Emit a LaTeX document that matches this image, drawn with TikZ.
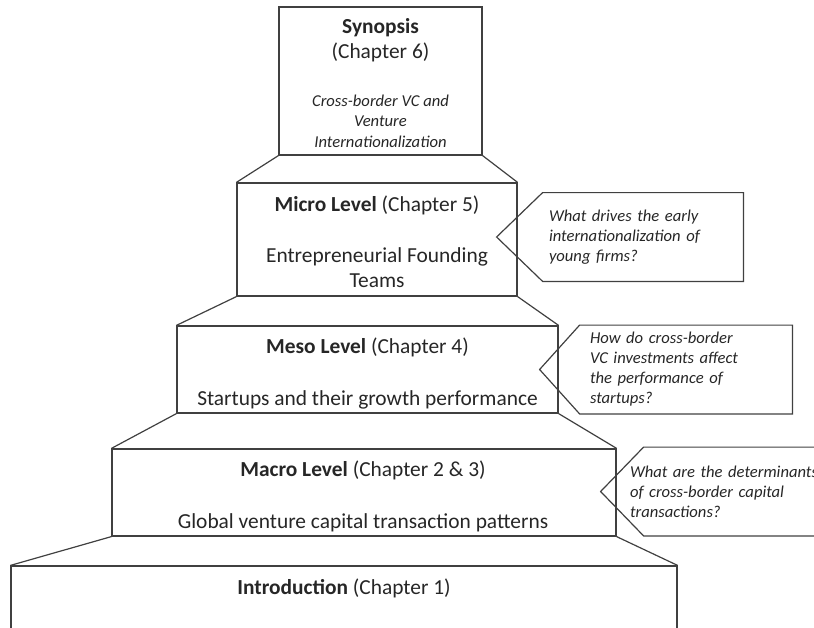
\documentclass[tikz,border=0pt]{standalone}
\usepackage{fontspec}
\setmainfont{Carlito}
\begin{document}
\begin{tikzpicture}
[x=0.5pt,y=-0.5pt,every node/.style={inner sep=0pt,text=black!85},
 lvl/.style={draw=black!75,line width=0.6pt,rectangle},
 txt/.style={font=\fontsize{10.7}{12.5}\selectfont,anchor=base,align=center},
 note/.style={font=\fontsize{8.3}{10}\selectfont\itshape,align=left,minimum height=44pt}]
\clip (0,0) rectangle (814,627);
% the stepped pyramid
\node[lvl,minimum width=101.5pt,minimum height=74pt] (syn) at (380.5,81) {};
\node[lvl,minimum width=140pt,minimum height=56.5pt] (micro) at (377,239.5) {};
\node[lvl,minimum width=190.5pt,minimum height=43.5pt] (meso) at (367.5,369.5) {};
\node[lvl,minimum width=252pt,minimum height=43.5pt] (macro) at (364,492.5) {};
\node[lvl,minimum width=333pt,minimum height=37pt] (intro) at (344,603) {};
\foreach \a/\b in {syn/micro,micro/meso,meso/macro,macro/intro}{
\draw[lvl] (\a.south west) -- (\b.north west);
\draw[lvl] (\a.south east) -- (\b.north east);
}
% texts of the levels (base = last line)
\node[txt] (synT) at (380.5,58) {\textbf{Synopsis}\\(Chapter 6)};
\node[txt,font=\fontsize{8.3}{10.25}\selectfont\itshape] (synQ) at (380.5,147) {Cross-border VC and\\Venture\\Internationalization};
\node[txt] (microT) at (377,211) {\textbf{Micro Level} (Chapter 5)};
\node[txt] (microQ) at (377,287) {Entrepreneurial Founding\\Teams};
\node[txt] (mesoT) at (367.5,353) {\textbf{Meso Level} (Chapter 4)};
\node[txt] (mesoQ) at (367.5,405) {Startups and their growth performance};
\node[txt] (macroT) at (363,476) {\textbf{Macro Level} (Chapter 2 \& 3)};
\node[txt] (macroQ) at (363,528) {Global venture capital transaction patterns};
\node[txt] (introT) at (344,594) {\textbf{Introduction} (Chapter 1)};
% research questions
\node[note,minimum width=100pt,text width=94pt,inner xsep=3pt] (q1) at (643,237)
 {What drives the early\\internationalization of\\young firms?};
\node[note,minimum width=106pt,text width=96pt,inner xsep=5pt] (q2) at (686,369.5)
 {How do cross-border\\VC investments affect\\the performance of\\startups?};
\node[note,minimum width=108pt,text width=122pt,inner xsep=-7pt] (q3) at (752,491.5)
 {What are the determinants\\of cross-border capital\\transactions?};
\foreach \q/\d in {q1/23,q2/20,q3/21.5}
\draw[lvl] (\q.north west) -- (\q.north east) -- (\q.south east) -- (\q.south west) -- ([xshift=-\d pt]\q.west) -- cycle;
\end{tikzpicture}
\end{document}
